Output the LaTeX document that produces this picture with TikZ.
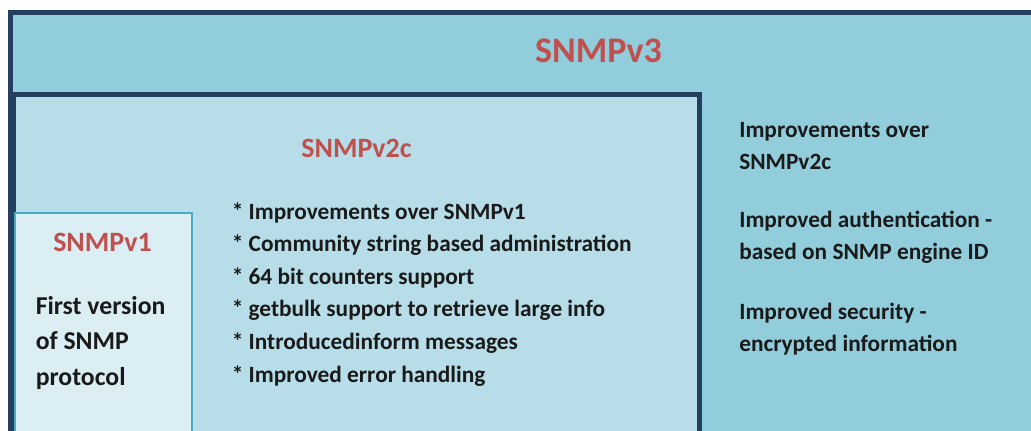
\documentclass[tikz,border=0pt]{standalone}
\usepackage{fontspec}
\setmainfont{Carlito}
\definecolor{navy}{HTML}{243F60}
\definecolor{v3fill}{HTML}{92CDDC}
\definecolor{v2fill}{HTML}{B7DEE8}
\definecolor{v1fill}{HTML}{DAEEF3}
\definecolor{v1line}{HTML}{4BACC6}
\definecolor{titlered}{HTML}{C0504D}
\definecolor{ink}{HTML}{1A1A1A}

\begin{document}
\begin{tikzpicture}[x=0.75pt, y=-0.75pt]
  \tikzset{
    frame/.style={line width=3.75pt, draw=navy},
    title/.style={font=\bfseries\fontsize{21}{25}\selectfont, text=titlered, inner sep=0pt},
    body/.style={font=\bfseries\fontsize{17.5}{24.4}\selectfont, text=ink, align=left, inner sep=0pt}
  }

  \useasboundingbox (0,0) rectangle (1031,430);
  \clip (0,0) rectangle (1031,430);

  % Version frames (they run off the right and bottom edges)
  \draw[frame, fill=v3fill] (10.5,12.5) rectangle (1045,445);
  \draw[frame, fill=v2fill] (13.5,94) rectangle (699,445);
  \draw[line width=1.5pt, draw=v1line, fill=v1fill] (15,213) rectangle (192,445);

  % Titles
  \node[title, font=\bfseries\fontsize{27}{32}\selectfont, anchor=base] (v3title) at (598.5,62) {SNMPv3};
  \node[title, anchor=base] (v2title) at (356.5,157.3) {SNMPv2c};
  \node[title, anchor=base] (v1title) at (102.5,251) {SNMPv1};

  % Feature lists (base = last line)
  \node[body, font=\bfseries\fontsize{19.3}{26.6}\selectfont, anchor=base west] (v1text) at (35.5,385)
    {First version\\of SNMP\\protocol};
  \node[body, anchor=base west] (v2text) at (231.5,382)
    {* Improvements over SNMPv1\\* Community string based administration\\* 64 bit counters support\\
     * getbulk support to retrieve large info\\* Introducedinform messages\\* Improved error handling};
  \node[body, anchor=base west] (v3text) at (739,351.7)
    {Improvements over\\SNMPv2c\\[19pt]Improved authentication -\\based on SNMP engine ID\\[20pt]
     Improved security -\\encrypted information};
\end{tikzpicture}
\end{document}
